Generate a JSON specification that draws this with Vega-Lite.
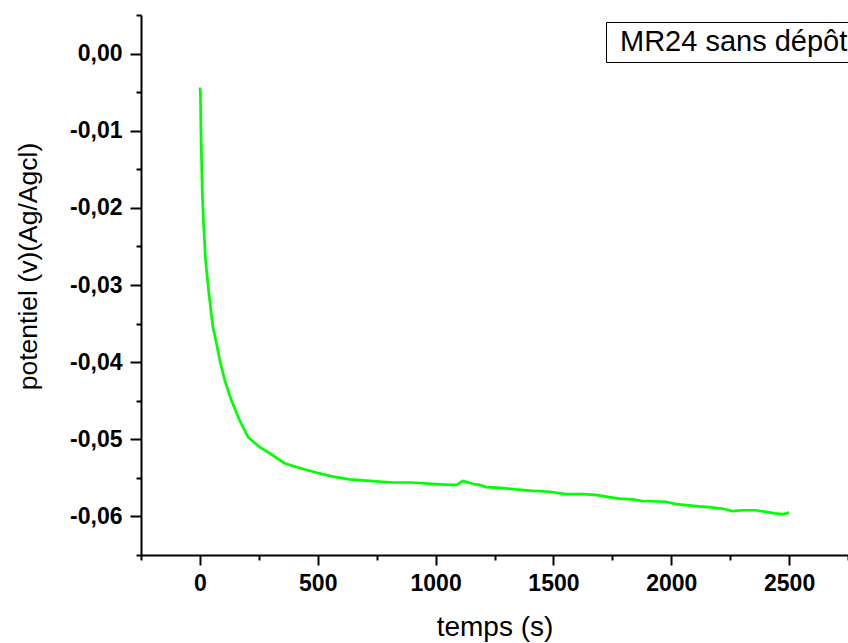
{
  "$schema": "https://vega.github.io/schema/vega-lite/v6.json",
  "width": 707,
  "height": 540,
  "autosize": {"type": "none"},
  "padding": {"left": 141, "top": 15, "right": 0, "bottom": 88},
  "background": "white",
  "config": {
    "view": {"stroke": null},
    "axis": {
      "domainColor": "black",
      "domainWidth": 2,
      "tickColor": "black",
      "tickWidth": 2,
      "grid": false,
      "labelFont": "Liberation Sans",
      "labelFontWeight": "bold",
      "labelFontSize": 23,
      "labelColor": "black",
      "titleFont": "Liberation Sans",
      "titleFontWeight": "normal",
      "titleColor": "black",
      "labelOverlap": false,
      "labelFlush": false
    }
  },
  "data": {
    "values": [
      {"t": 0, "v": -0.0044},
      {"t": 2, "v": -0.0052},
      {"t": 4, "v": -0.0095},
      {"t": 7, "v": -0.0138},
      {"t": 10, "v": -0.0181},
      {"t": 16, "v": -0.0224},
      {"t": 24, "v": -0.0268},
      {"t": 38, "v": -0.0311},
      {"t": 55, "v": -0.0354},
      {"t": 67, "v": -0.0371},
      {"t": 84, "v": -0.0397},
      {"t": 105, "v": -0.0423},
      {"t": 133, "v": -0.0449},
      {"t": 168, "v": -0.0475},
      {"t": 204, "v": -0.0497},
      {"t": 253, "v": -0.0510},
      {"t": 300, "v": -0.0519},
      {"t": 359, "v": -0.0531},
      {"t": 420, "v": -0.0537},
      {"t": 493, "v": -0.0543},
      {"t": 560, "v": -0.0548},
      {"t": 635, "v": -0.0552},
      {"t": 720, "v": -0.0554},
      {"t": 818, "v": -0.0556},
      {"t": 900, "v": -0.0556},
      {"t": 1000, "v": -0.0558},
      {"t": 1059, "v": -0.0559},
      {"t": 1090, "v": -0.0559},
      {"t": 1105, "v": -0.0556},
      {"t": 1114, "v": -0.0554},
      {"t": 1130, "v": -0.0555},
      {"t": 1160, "v": -0.0558},
      {"t": 1186, "v": -0.0559},
      {"t": 1214, "v": -0.0562},
      {"t": 1280, "v": -0.0563},
      {"t": 1341, "v": -0.0565},
      {"t": 1420, "v": -0.0567},
      {"t": 1483, "v": -0.0568},
      {"t": 1553, "v": -0.0571},
      {"t": 1624, "v": -0.0571},
      {"t": 1680, "v": -0.0572},
      {"t": 1737, "v": -0.0575},
      {"t": 1780, "v": -0.0577},
      {"t": 1836, "v": -0.0578},
      {"t": 1878, "v": -0.0580},
      {"t": 1977, "v": -0.0581},
      {"t": 2020, "v": -0.0584},
      {"t": 2118, "v": -0.0587},
      {"t": 2161, "v": -0.0588},
      {"t": 2220, "v": -0.0590},
      {"t": 2246, "v": -0.0592},
      {"t": 2260, "v": -0.0593},
      {"t": 2300, "v": -0.0592},
      {"t": 2359, "v": -0.0592},
      {"t": 2401, "v": -0.0594},
      {"t": 2440, "v": -0.0596},
      {"t": 2472, "v": -0.0597},
      {"t": 2490, "v": -0.0596},
      {"t": 2500, "v": -0.0595}
    ]
  },
  "mark": {"type": "line", "strokeWidth": 2.7, "interpolate": "linear"},
  "encoding": {
    "x": {
      "field": "t",
      "type": "quantitative",
      "scale": {"domain": [-250, 2750], "nice": false, "zero": false},
      "axis": {
        "title": "temps (s)",
        "titleFontSize": 28,
        "values": [-250, 0, 250, 500, 750, 1000, 1250, 1500, 1750, 2000, 2250, 2500, 2750],
        "labelExpr": "datum.value % 500 == 0 ? format(datum.value, 'd') : ''",
        "tickSize": {"condition": {"test": "datum.value % 500 != 0", "value": 5}, "value": 10},
        "labelPadding": 7,
        "titleBaseline": "alphabetic",
        "titleY": 80
      }
    },
    "y": {
      "field": "v",
      "type": "quantitative",
      "scale": {"domain": [-0.065, 0.005], "nice": false, "zero": false},
      "axis": {
        "title": "potentiel (v)(Ag/Agcl)",
        "titleFontSize": 26.5,
        "values": [-0.065, -0.06, -0.055, -0.05, -0.045, -0.04, -0.035, -0.03, -0.025, -0.02, -0.015, -0.01, -0.005, 0, 0.005],
        "labelExpr": "round(datum.value * 1000) % 10 == 0 ? replace(replace(format(datum.value, '.2f'), '\u2212', '-'), '.', ',') : ''",
        "tickSize": {"condition": {"test": "round(datum.value * 1000) % 10 != 0", "value": 5}, "value": 11},
        "labelPadding": 8,
        "titleX": -99,
        "titleY": 251,
        "titleBaseline": "bottom"
      }
    },
    "color": {
      "datum": "MR24 sans dépôt",
      "type": "nominal",
      "scale": {"domain": ["MR24 sans dépôt"], "range": ["#00ff00"]},
      "legend": {
        "title": null,
        "orient": "none",
        "legendX": 465,
        "legendY": 7,
        "strokeColor": "black",
        "fillColor": "white",
        "padding": 5,
        "symbolType": "circle",
        "symbolSize": 0,
        "symbolStrokeWidth": 0,
        "symbolOpacity": 0,
        "labelOffset": -20,
        "labelFont": "Liberation Sans",
        "labelFontSize": 29,
        "labelColor": "black",
        "labelLimit": 0
      }
    }
  }
}
